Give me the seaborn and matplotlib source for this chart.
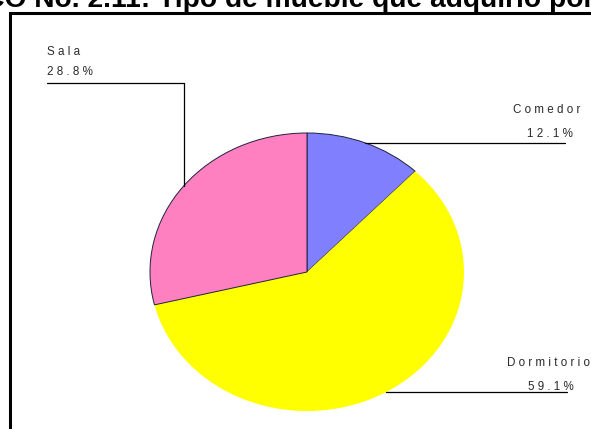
import numpy as np
import matplotlib
matplotlib.use("Agg")
import matplotlib.pyplot as plt
import seaborn as sns

# Data
categories = ["Comedor", "Dormitorio", "Sala"]
percentages = [12.1, 59.1, 28.8]
slice_colors = ["#8080FF", "#FFFF00", "#FF80C0"]
title_text = "GRÁFICO No. 2.11: Tipo de mueble que adquirió por primera vez"

sns.set_theme(style="white")
plt.rcParams["font.family"] = ["Liberation Sans", "DejaVu Sans"]

W, H = 591, 429
fig = plt.figure(figsize=(W / 100, H / 100), dpi=100)
fig.patch.set_facecolor("white")

# Overlay axes in pixel units (origin top-left)
ov = fig.add_axes([0, 0, 1, 1], zorder=3)
ov.set_xlim(0, W)
ov.set_ylim(H, 0)
ov.axis("off")

# Frame around the chart area
ov.plot([10, 10, W + 5], [H + 5, 13, 13], color="black", lw=2.2,
        solid_capstyle="butt", solid_joinstyle="miter")

# Title (bold), partly running off the top of the image
fs0 = 16
probe = fig.text(0, 0, "O No. 2.11: Tipo de mueble que adquirió ",
                 fontsize=fs0, fontweight="bold")
fig.canvas.draw()
r = fig.canvas.get_renderer()
w_probe = probe.get_window_extent(r).width
probe.remove()
fs = fs0 * 542 / w_probe
pre = fig.text(0, 0, "GRÁFIC", fontsize=fs, fontweight="bold")
fig.canvas.draw()
w_pre = pre.get_window_extent(r).width
pre.remove()
ov.text(5 - w_pre, 6.8, title_text, fontsize=fs, fontweight="bold",
        color="black", ha="left", va="baseline", clip_on=False)

# Elliptical pie
cx, cy, rx, ry = 307, 272, 157, 139
axp = fig.add_axes([(cx - rx) / W, (H - cy - ry) / H, 2 * rx / W, 2 * ry / H])
wedges, _ = axp.pie(percentages, colors=slice_colors, startangle=90,
                    counterclock=False, radius=1,
                    wedgeprops=dict(linewidth=0.7, edgecolor="#202040"))
wedges[1].set_edgecolor("none")
axp.set_xlim(-1, 1)
axp.set_ylim(-1, 1)
axp.set_aspect("auto")
axp.axis("off")


def spaced(s):
    return " ".join(s)


def anchor(w):
    a = np.deg2rad((w.theta1 + w.theta2) / 2)
    dx, dy = axp.transData.transform((np.cos(a), np.sin(a)))
    return dx, H - dy


label_kw = dict(fontsize=8.4, color="#2a2a2a", ha="left", va="baseline",
                clip_on=False)
line_kw = dict(color="black", lw=0.9)

# Leader lines and labels
for name, val, w in zip(categories, percentages, wedges):
    ax_, ay_ = anchor(w)
    pct = spaced(f"{val:.1f}%")
    if name == "Sala":
        ov.plot([ax_, ax_, 47], [ay_, 83, 83], **line_kw)
        ov.text(47, 55, spaced(name), **label_kw)
        ov.text(47, 75, pct, **label_kw)
    elif name == "Comedor":
        ov.plot([ax_, 565], [ay_, ay_], **line_kw)
        ov.text(513, 113, spaced(name), **label_kw)
        ov.text(527, 137, pct, **label_kw)
    else:
        ov.plot([ax_, 567], [ay_, ay_], **line_kw)
        ov.text(507, 366, spaced(name), **label_kw)
        ov.text(528, 390, pct, **label_kw)

fig.savefig("out.png", dpi=100)
